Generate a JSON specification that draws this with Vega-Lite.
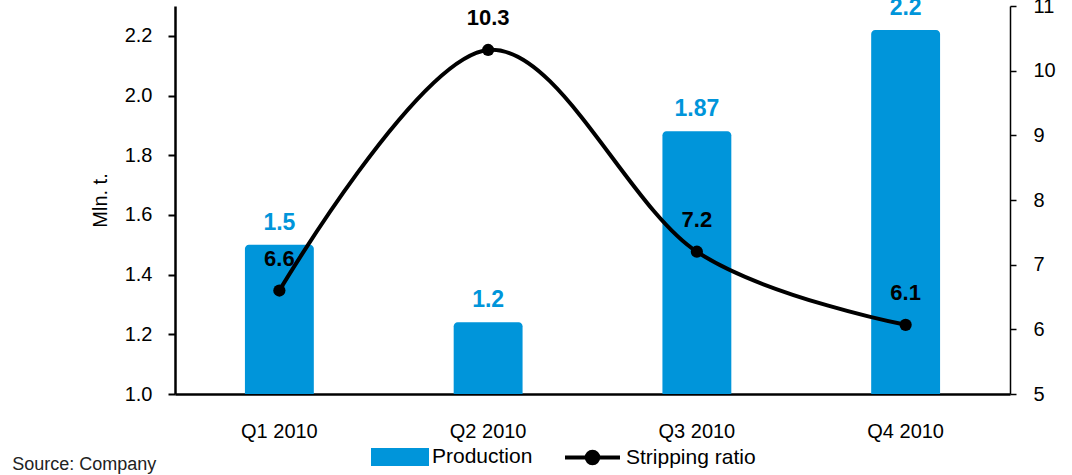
{
  "$schema": "https://vega.github.io/schema/vega-lite/v6.json",
  "width": 835,
  "height": 388,
  "autosize": {"type": "none"},
  "padding": {"left": 175, "top": 6, "right": 62, "bottom": 81},
  "background": "white",
  "config": {
    "view": {"stroke": null},
    "font": "Liberation Sans",
    "axis": {"grid": false, "labelFont": "Liberation Sans", "labelColor": "black", "titleColor": "black", "titleFont": "Liberation Sans"},
    "legend": {"labelFont": "Liberation Sans", "labelColor": "black", "labelFontSize": 21}
  },
  "title": {
    "text": "Source: Company",
    "orient": "bottom",
    "anchor": "start",
    "frame": "bounds",
    "fontSize": 18,
    "fontWeight": "normal",
    "color": "#222222",
    "font": "Liberation Sans",
    "offset": 0,
    "dx": -78,
    "dy": -16
  },
  "data": {
    "values": [
      {"quarter": "Q1 2010", "production": 1.5, "prodLabel": "1.5", "ratio": 6.6, "ratioLabel": "6.6"},
      {"quarter": "Q2 2010", "production": 1.24, "prodLabel": "1.2", "ratio": 10.32, "ratioLabel": "10.3"},
      {"quarter": "Q3 2010", "production": 1.88, "prodLabel": "1.87", "ratio": 7.2, "ratioLabel": "7.2"},
      {"quarter": "Q4 2010", "production": 2.22, "prodLabel": "2.2", "ratio": 6.07, "ratioLabel": "6.1"}
    ]
  },
  "encoding": {
    "x": {
      "field": "quarter",
      "type": "nominal",
      "sort": null,
      "scale": {"paddingInner": 0.67, "paddingOuter": 0.335},
      "axis": {
        "title": null,
        "labelAngle": 0,
        "labelFontSize": 20,
        "ticks": false,
        "tickSize": 0,
        "labelPadding": 27,
        "domainColor": "black",
        "domainWidth": 2.5
      }
    }
  },
  "layer": [
    {
      "encoding": {
        "y": {
          "field": "production",
          "type": "quantitative",
          "scale": {"domain": [1.0, 2.3], "nice": false, "zero": false},
          "axis": {
            "title": "Mln. t.",
            "titleFontSize": 20,
            "titleFontWeight": "normal",
            "titlePadding": 14,
            "values": [1.0, 1.2, 1.4, 1.6, 1.8, 2.0, 2.2],
            "format": ".1f",
            "labelFontSize": 20,
            "labelPadding": 16,
            "tickSize": 7,
            "tickColor": "black",
            "tickWidth": 2,
            "domainColor": "black",
            "domainWidth": 2.5
          }
        }
      },
      "layer": [
        {
          "mark": {"type": "bar", "cornerRadiusTopLeft": 4, "cornerRadiusTopRight": 4},
          "encoding": {
            "y2": {"datum": 1.0},
            "fill": {
              "datum": "Production",
              "scale": {"range": ["#0095DA"]},
              "legend": {
                "title": null,
                "orient": "none",
                "legendX": 196,
                "legendY": 422,
                "symbolType": "M-1,-0.31H1V0.31H-1Z",
                "symbolSize": 3364,
                "symbolStrokeWidth": 0,
                "labelOffset": 3
              }
            }
          }
        },
        {
          "mark": {"type": "text", "fontSize": 23, "fontWeight": "bold", "color": "#0095DA", "baseline": "middle", "dy": -22},
          "encoding": {"text": {"field": "prodLabel"}}
        }
      ]
    },
    {
      "encoding": {
        "y": {
          "field": "ratio",
          "type": "quantitative",
          "scale": {"domain": [5, 11], "nice": false, "zero": false},
          "axis": {
            "title": null,
            "values": [5, 6, 7, 8, 9, 10, 11],
            "labelFontSize": 20,
            "labelPadding": 17,
            "tickSize": 6,
            "tickColor": "black",
            "tickWidth": 1.5,
            "domainColor": "black",
            "domainWidth": 1.5
          }
        }
      },
      "layer": [
        {
          "mark": {"type": "line", "interpolate": "cardinal", "strokeWidth": 4},
          "encoding": {
            "stroke": {
              "datum": "Stripping ratio",
              "scale": {"range": ["black"]},
              "legend": {
                "title": null,
                "orient": "none",
                "legendX": 388,
                "legendY": 422,
                "symbolType": "M-1,0H1M0.21,0A0.21,0.21 0 1,1 -0.21,0A0.21,0.21 0 1,1 0.21,0Z",
                "symbolSize": 3025,
                "symbolStrokeWidth": 4,
                "symbolFillColor": "black",
                "labelOffset": 4
              }
            }
          }
        },
        {
          "mark": {"type": "point", "filled": true, "size": 150, "color": "black", "opacity": 1}
        },
        {
          "mark": {"type": "text", "fontSize": 22, "fontWeight": "bold", "color": "black", "baseline": "middle", "dy": -32},
          "encoding": {"text": {"field": "ratioLabel"}}
        }
      ]
    }
  ],
  "resolve": {"scale": {"y": "independent"}}
}
